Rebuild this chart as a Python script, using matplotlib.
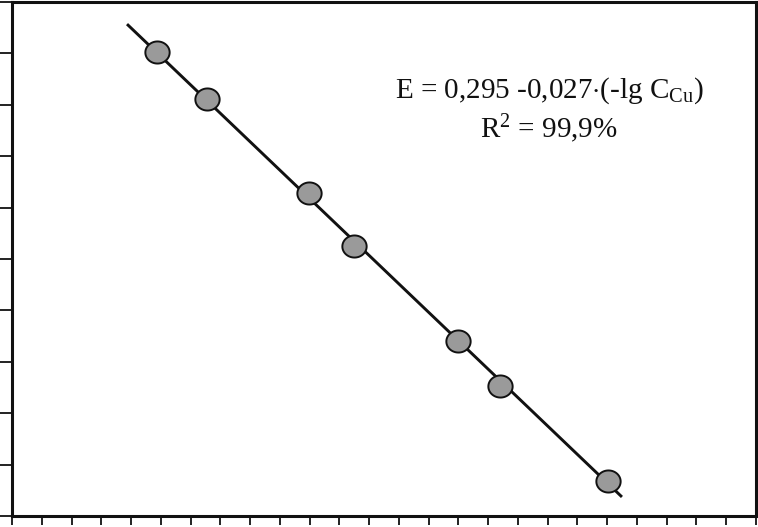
import numpy as np
import matplotlib
matplotlib.use("Agg")
import matplotlib.pyplot as plt
from matplotlib.path import Path

plt.rcParams['font.family'] = ['Liberation Serif', 'DejaVu Serif']
plt.rcParams['mathtext.fontset'] = 'custom'
plt.rcParams['mathtext.rm'] = 'Liberation Serif'
plt.rcParams['mathtext.it'] = 'Liberation Serif:italic'

# points (axis units, no tick labels in the original)
x = [4.87, 6.55, 9.98, 11.49, 14.99, 16.40, 20.03]
y = [9.03, 8.11, 6.28, 5.25, 3.40, 2.53, 0.68]

# regression line ends
line_x = [3.90, 20.46]
line_y = [9.55, 0.39]

eq_text = r'E = 0,295 -0,027$\cdot$(-lg C$_{\mathrm{Cu}}$)'
r2_text = r'R$^{2}$ = 99,9%'

# slightly wide ellipse marker
t = np.linspace(0, 2 * np.pi, 60)
ell = Path(np.column_stack([1.1 * np.cos(t), np.sin(t)]), closed=True)

fig = plt.figure(figsize=(7.58, 5.27), dpi=100)
ax = fig.add_axes([12 / 758, 11 / 527, 744 / 758, 514 / 527])

ax.plot(line_x, line_y, color='#111111', lw=2.1, zorder=2)
ax.plot(x, y, linestyle='none', marker=ell, markersize=17.5,
        markerfacecolor='#9a9a9a', markeredgecolor='#111111', markeredgewidth=1.4, zorder=3)

ax.set_xlim(0, 25)
ax.set_ylim(0, 10)
ax.set_xticks(np.arange(0, 26, 1))
ax.set_yticks(np.arange(0, 11, 1))
ax.set_xticklabels([])
ax.set_yticklabels([])
ax.tick_params(axis='x', direction='out', length=6.5, width=1.3, color='#111111')
ax.tick_params(axis='y', direction='out', length=9, width=1.3, color='#111111')
for s in ax.spines.values():
    s.set_linewidth(2.2)
    s.set_color('#111111')

ax.text(0.722, 0.813, eq_text, transform=ax.transAxes, ha='center', va='baseline',
        fontsize=21, color='#111111')
ax.text(0.722, 0.737, r2_text, transform=ax.transAxes, ha='center', va='baseline',
        fontsize=21, color='#111111')

fig.savefig('out.png', dpi=100)
